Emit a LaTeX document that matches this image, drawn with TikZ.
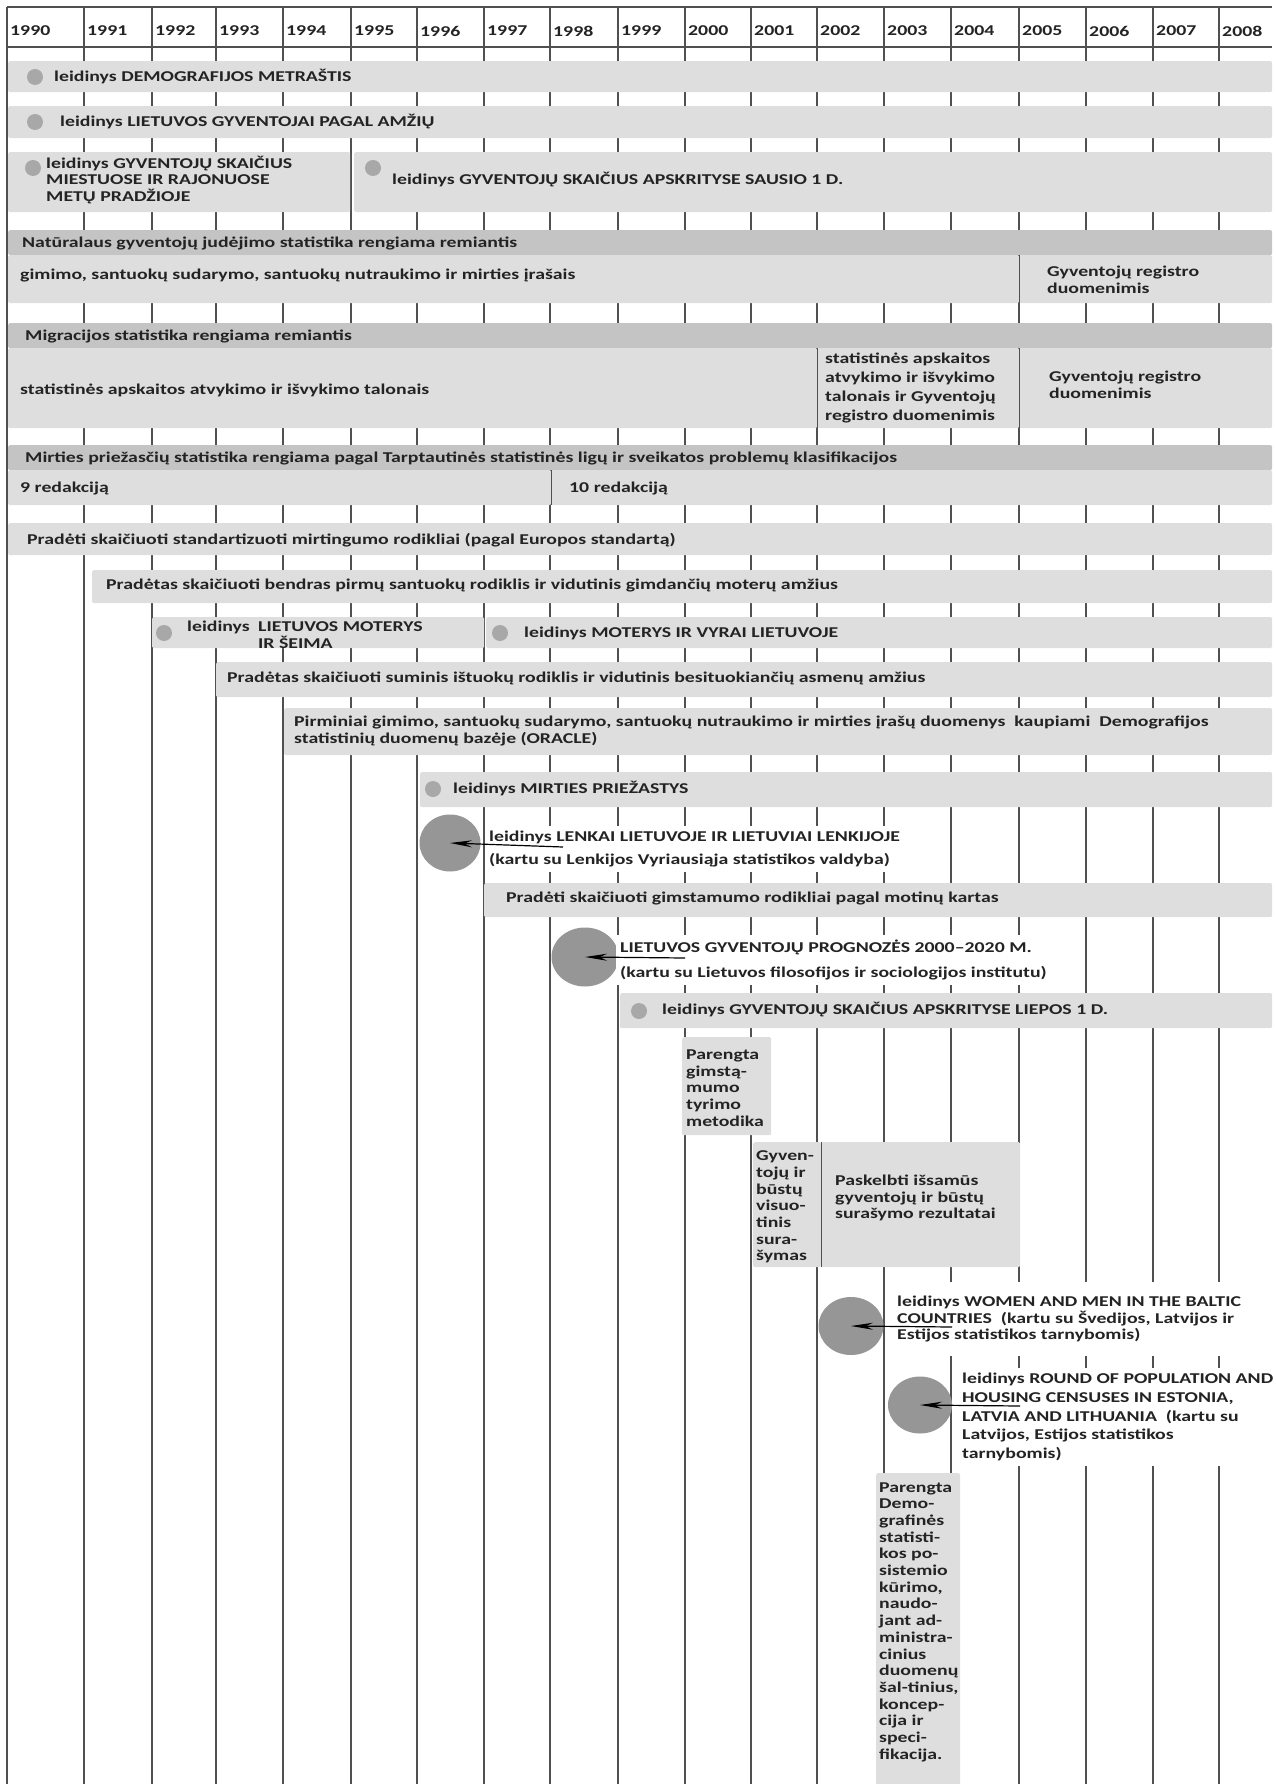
\documentclass[tikz,border=0pt]{standalone}
\usepackage{fontspec}
\setmainfont{Carlito}[FakeStretch=1.32]
\usetikzlibrary{shapes.geometric, arrows.meta, positioning}
\definecolor{barfill}{RGB}{222,222,222}
\definecolor{headfill}{RGB}{196,196,196}
\definecolor{dotgray}{RGB}{168,168,168}
\definecolor{pubgray}{RGB}{150,150,150}
\definecolor{gridgray}{RGB}{80,80,80}
\definecolor{inkgray}{RGB}{35,35,35}

\tikzset{
  txt/.style={font=\fontsize{15}{16.7}\selectfont\bfseries, text=inkgray, inner sep=0pt, align=left},
  bar/.style={fill=barfill, anchor=north west, inner sep=0pt, rounded corners=1.5pt},
  headbar/.style={bar, fill=headfill},
  dot/.style={circle, fill=dotgray, minimum size=16pt, inner sep=0pt},
  pub/.style={ellipse, fill=pubgray, inner sep=0pt},
  gridline/.style={gridgray, line width=1.1pt},
  pubarrow/.style={-{Stealth[length=22pt,width=7pt]}, line width=1.2pt, black},
  note/.style={txt, fill=white, inner xsep=4pt, inner ysep=5pt}
}

\begin{document}
\begin{tikzpicture}[x=1pt,y=-1pt]
\useasboundingbox (0,0) rectangle (1275,1784);

% Year grid
\draw[gridline] (7,7) -- (1272,7);
\draw[gridline] (7,47) -- (1272,47);
\foreach \xx/\yr in {7/1990,84/1991,152/1992,216/1993,283/1994,351/1995,417/1996,484/1997,550/1998,618/1999,685/2000,751/2001,817/2002,884/2003,951/2004,1019/2005,1086/2006,1153/2007,1219/2008} {
  \draw[gridline] (\xx,7) -- (\xx,1784);
  \node[txt, anchor=west] (y\yr) at (\xx+3,31) {\yr};
}

% Publications on top
\node[bar, minimum width=1264pt, minimum height=31pt] (demobar) at (8,61) {};
\node[dot] (demodot) at (35,77) {};
\node[txt, anchor=west] (demotxt) at (54,77) {leidinys DEMOGRAFIJOS METRAŠTIS};

\node[bar, minimum width=1264pt, minimum height=32pt] (amzbar) at (8,106) {};
\node[dot] (amzdot) at (35,122) {};
\node[txt, anchor=west] (amztxt) at (60,122) {leidinys LIETUVOS GYVENTOJAI PAGAL AMŽIŲ};

\node[bar, minimum width=342pt, minimum height=60pt] (miestbar) at (8,152) {};
\node[dot] (miestdot) at (33,168) {};
\node[txt, anchor=west] (mietxt) at (46,180) {leidinys GYVENTOJŲ SKAIČIUS\\MIESTUOSE IR RAJONUOSE\\METŲ PRADŽIOJE};

\node[bar, minimum width=918pt, minimum height=60pt] (sausbar) at (354,152) {};
\node[dot] (sausdot) at (373,168) {};
\node[txt, anchor=west] (saustxt) at (392,180) {leidinys GYVENTOJŲ SKAIČIUS APSKRITYSE SAUSIO 1 D.};

% Natural movement
\node[headbar, minimum width=1264pt, minimum height=25pt] (nathead) at (8,230) {};
\node[txt, anchor=west] (nathtxt) at (22,243) {Natūralaus gyventojų judėjimo statistika rengiama remiantis};
\node[bar, minimum width=1011pt, minimum height=48pt] (natleft) at (8,255) {};
\node[bar, minimum width=253pt, minimum height=48pt] (natright) at (1019,255) {};
\draw[gridline] (natleft.north east) -- (natleft.south east);
\node[txt, anchor=west] (natltxt) at (20,275) {gimimo, santuokų sudarymo, santuokų nutraukimo ir mirties įrašais};
\node[txt, anchor=west] (natrtxt) at (1047,280) {Gyventojų registro\\duomenimis};

% Migration
\node[headbar, minimum width=1264pt, minimum height=25pt] (mighead) at (8,323) {};
\node[txt, anchor=west] (mightxt) at (25,336) {Migracijos statistika rengiama remiantis};
\node[bar, minimum width=809pt, minimum height=80pt] (migleft) at (8,348) {};
\node[bar, minimum width=202pt, minimum height=80pt] (migmid) at (817,348) {};
\node[bar, minimum width=253pt, minimum height=80pt] (migright) at (1019,348) {};
\draw[gridline] (migleft.north east) -- (migleft.south east);
\draw[gridline] (migmid.north east) -- (migmid.south east);
\node[txt, anchor=west] (migltxt) at (20,390) {statistinės apskaitos atvykimo ir išvykimo talonais};
\node[txt, anchor=west] (migmtxt) at (825,388) {statistinės apskaitos\\[2pt]atvykimo ir išvykimo\\[2pt]talonais ir Gyventojų\\[2pt]registro duomenimis};
\node[txt, anchor=west] (migrtxt) at (1049,385) {Gyventojų registro\\duomenimis};

% Causes of death
\node[headbar, minimum width=1264pt, minimum height=25pt] (mirhead) at (8,445) {};
\node[txt, anchor=west] (mirhtxt) at (25,458) {Mirties priežasčių statistika rengiama pagal Tarptautinės statistinės ligų ir sveikatos problemų klasifikacijos};
\node[bar, minimum width=543pt, minimum height=35pt] (mirleft) at (8,470) {};
\node[bar, minimum width=721pt, minimum height=35pt] (mirright) at (551,470) {};
\draw[gridline] (mirleft.north east) -- (mirleft.south east);
\node[txt, anchor=west] (mirltxt) at (20,489) {9 redakciją};
\node[txt, anchor=west] (mirrtxt) at (569,489) {10 redakciją};

% Indicators
\node[bar, minimum width=1264pt, minimum height=32pt] (stdbar) at (8,523) {};
\node[txt, anchor=west] (stdtxt) at (27,540) {Pradėti skaičiuoti standartizuoti mirtingumo rodikliai (pagal Europos standartą)};

\node[bar, minimum width=1180pt, minimum height=33pt] (santbar) at (92,570) {};
\node[txt, anchor=west] (santtxt) at (106,585) {Pradėtas skaičiuoti bendras pirmų santuokų rodiklis ir vidutinis gimdančių moterų amžius};

\node[bar, minimum width=332pt, minimum height=31pt] (seimbar) at (152,617) {};
\node[dot] (seimdot) at (164,633) {};
\node[txt, anchor=west] (seimlab) at (187,627) {leidinys};
\node[txt, anchor=west] (seimtxt) at (258,635) {LIETUVOS MOTERYS\\IR ŠEIMA};

\node[bar, minimum width=786pt, minimum height=31pt] (vyrbar) at (486,617) {};
\node[dot] (vyrdot) at (500,633) {};
\node[txt, anchor=west] (vyrtxt) at (524,633) {leidinys MOTERYS IR VYRAI LIETUVOJE};

\node[bar, minimum width=1056pt, minimum height=35pt] (istbar) at (216,662) {};
\node[txt, anchor=west] (isttxt) at (227,678) {Pradėtas skaičiuoti suminis ištuokų rodiklis ir vidutinis besituokiančių asmenų amžius};

\node[bar, minimum width=988pt, minimum height=47pt] (orabar) at (284,708) {};
\node[txt, anchor=west] (oratxt) at (294,731) {Pirminiai gimimo, santuokų sudarymo, santuokų nutraukimo ir mirties įrašų duomenys\ \ kaupiami\ \ Demografijos\\statistinių duomenų bazėje (ORACLE)};

\node[bar, minimum width=852pt, minimum height=35pt] (priezbar) at (420,772) {};
\node[dot] (priezdot) at (433,789) {};
\node[txt, anchor=west] (prieztxt) at (453,789) {leidinys MIRTIES PRIEŽASTYS};

% Joint publication with Poland
\node[pub, minimum width=61pt, minimum height=57pt] (lenkell) at (450,843) {};
\node[note, anchor=west] (lenktxt) at (485,849) {leidinys LENKAI LIETUVOJE IR LIETUVIAI LENKIJOJE\\[6pt](kartu su Lenkijos Vyriausiąja statistikos valdyba)};
\coordinate (lenkend) at (563,847);
\draw[pubarrow] (lenkend) -- (lenkell.center);

\node[bar, minimum width=788pt, minimum height=34pt] (kartbar) at (484,883) {};
\node[txt, anchor=west] (karttxt) at (506,898) {Pradėti skaičiuoti gimstamumo rodikliai pagal motinų kartas};

% Projections
\node[pub, minimum width=67pt, minimum height=59pt] (progell) at (585,957) {};
\node[note, anchor=west] (progtxt) at (616,960) {LIETUVOS GYVENTOJŲ PROGNOZĖS 2000–2020 M.\\[8pt](kartu su Lietuvos filosofijos ir sociologijos institutu)};
\coordinate (progend) at (685,958);
\draw[pubarrow] (progend) -- (progell.center);

\node[bar, minimum width=652pt, minimum height=35pt] (liepbar) at (620,993) {};
\node[dot] (liepdot) at (639,1011) {};
\node[txt, anchor=west] (lieptxt) at (662,1010) {leidinys GYVENTOJŲ SKAIČIUS APSKRITYSE LIEPOS 1 D.};

% Small boxes
\node[bar, minimum width=89pt, minimum height=98pt] (metbox) at (682,1037) {};
\node[txt, anchor=west] (mettxt) at (686,1088) {Parengta\\gimstą-\\mumo\\tyrimo\\metodika};

\node[bar, minimum width=68pt, minimum height=125pt] (censbox) at (753,1142) {};
\node[bar, minimum width=199pt, minimum height=125pt] (resbox) at (821,1142) {};
\draw[gridline] (censbox.north east) -- (censbox.south east);
\node[txt, anchor=west] (censtxt) at (756,1207) {Gyven-\\tojų ir\\būstų\\visuo-\\tinis\\sura-\\šymas};
\node[txt, anchor=west] (restxt) at (835,1198) {Paskelbti išsamūs\\gyventojų ir būstų\\surašymo rezultatai};

% Baltic publications
\node[pub, minimum width=65pt, minimum height=58pt] (baltell) at (851,1326) {};
\node[note, anchor=west, inner ysep=14pt] (balttxt) at (893,1319) {leidinys WOMEN AND MEN IN THE BALTIC\\COUNTRIES\ \ (kartu su Švedijos, Latvijos ir\\Estijos statistikos tarnybomis)};
\coordinate (baltend) at (952,1327);
\draw[pubarrow] (baltend) -- (baltell.center);

\node[pub, minimum width=64pt, minimum height=57pt] (roundell) at (920,1405) {};
\node[note, anchor=west] (roundtxt) at (958,1417) {leidinys ROUND OF POPULATION AND\\[2pt]HOUSING CENSUSES IN ESTONIA,\\[2pt]LATVIA AND LITHUANIA\ \ (kartu su\\[2pt]Latvijos, Estijos statistikos\\[2pt]tarnybomis)};
\coordinate (roundend) at (1020,1406);
\draw[pubarrow] (roundend) -- (roundell.center);

% Subsystem box
\node[bar, minimum width=84pt, minimum height=312pt] (subbox) at (876,1473) {};
\node[txt, anchor=west] (subtxt) at (879,1622) {Parengta\\Demo-\\grafinės\\statisti-\\kos po-\\sistemio\\kūrimo,\\naudo-\\jant ad-\\ministra-\\cinius\\duomenų\\šal-tinius,\\koncep-\\cija ir\\speci-\\fikacija.};
\end{tikzpicture}
\end{document}
